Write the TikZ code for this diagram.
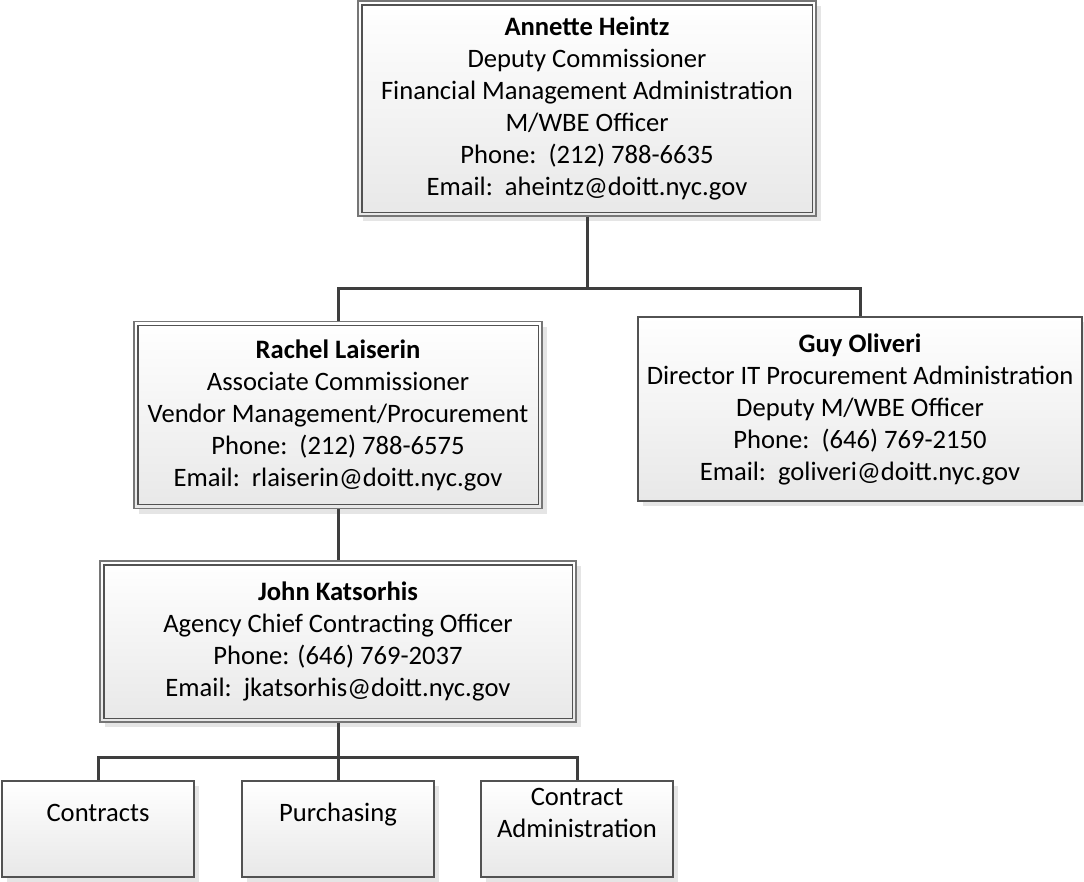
\documentclass[tikz,border=0pt]{standalone}
\usepackage{fontspec}
\setmainfont{Carlito}
\usetikzlibrary{shadows}

\definecolor{framegray}{HTML}{767676}
\definecolor{innergray}{HTML}{525252}
\definecolor{fillbottom}{HTML}{E8E8E8}
\definecolor{shadowgray}{HTML}{E5E5E5}
\definecolor{linkgray}{HTML}{3E3E3E}

% inner line of the double frame
\newcommand\innerframe[1]{%
  \draw[innerline] ([xshift=4.5pt,yshift=-4.5pt]#1.north west)
    rectangle ([xshift=-4.5pt,yshift=4.5pt]#1.south east);}

\begin{document}
\begin{tikzpicture}[x=1pt,y=-1pt,
  boxfont/.style={font=\fontsize{26.6}{32}\selectfont},
  boxbase/.style={rectangle, draw=framegray, line width=1.2pt,
    top color=white, bottom color=fillbottom, inner sep=0pt,
    general shadow={fill=shadowgray, shadow xshift=5pt, shadow yshift=-5pt},
    align=center, boxfont},
  innerline/.style={draw=innergray, line width=1.2pt},
  unitbox/.style={boxbase, draw=innergray, minimum width=192pt, minimum height=96pt},
  unitlabel/.style={yshift=16pt, align=center, boxfont},
  onelabel/.style={unitlabel, yshift=-2pt},
  link/.style={draw=linkgray, line width=3pt}]

\useasboundingbox (0,0) rectangle (1084,881);

% people
\node[boxbase, minimum width=458pt, minimum height=215pt] (heintz) at (587,108.5)
  {\textbf{Annette Heintz}\\Deputy Commissioner\\Financial Management Administration\\
   M/WBE Officer\\Phone:\ \ (212) 788-6635\\Email:\ \ aheintz@doitt.nyc.gov};
\innerframe{heintz}

\node[boxbase, minimum width=408pt, minimum height=187pt] (laiserin) at (338,415)
  {\textbf{Rachel Laiserin}\\Associate Commissioner\\Vendor Management/Procurement\\
   Phone:\ \ (212) 788-6575\\Email:\ \ rlaiserin@doitt.nyc.gov};
\innerframe{laiserin}

\node[boxbase, draw=innergray, minimum width=444pt, minimum height=184pt] (oliveri) at (860,409)
  {\textbf{Guy Oliveri}\\Director IT Procurement Administration\\Deputy M/WBE Officer\\
   Phone:\ \ (646) 769-2150\\Email:\ \ goliveri@doitt.nyc.gov};

\node[boxbase, minimum width=476pt, minimum height=161pt] (katsorhis) at (338,641.5)
  {\textbf{John Katsorhis}\\Agency Chief Contracting Officer\\Phone: (646) 769-2037\\
   Email:\ \ jkatsorhis@doitt.nyc.gov};
\innerframe{katsorhis}

% units
\node[unitbox, label={[onelabel]center:\strut Contracts}] (contracts) at (98,829) {};
\node[unitbox, label={[onelabel]center:\strut Purchasing}] (purchasing) at (338,829) {};
\node[unitbox, label={[unitlabel]center:Contract\\Administration}] (admin) at (577,829) {};

% connectors
\coordinate (bartop) at (587,288);
\coordinate (barlow) at (338,757);

\draw[link] (heintz.south) -- (bartop);
\draw[link] (laiserin.north) -- (laiserin.north |- bartop) -- (oliveri.north |- bartop) -- (oliveri.north);
\draw[link] (laiserin.south) -- (katsorhis.north);
\draw[link] (katsorhis.south) -- (purchasing.north);
\draw[link] (contracts.north) -- (contracts.north |- barlow) -- (admin.north |- barlow) -- (admin.north);
\end{tikzpicture}
\end{document}
